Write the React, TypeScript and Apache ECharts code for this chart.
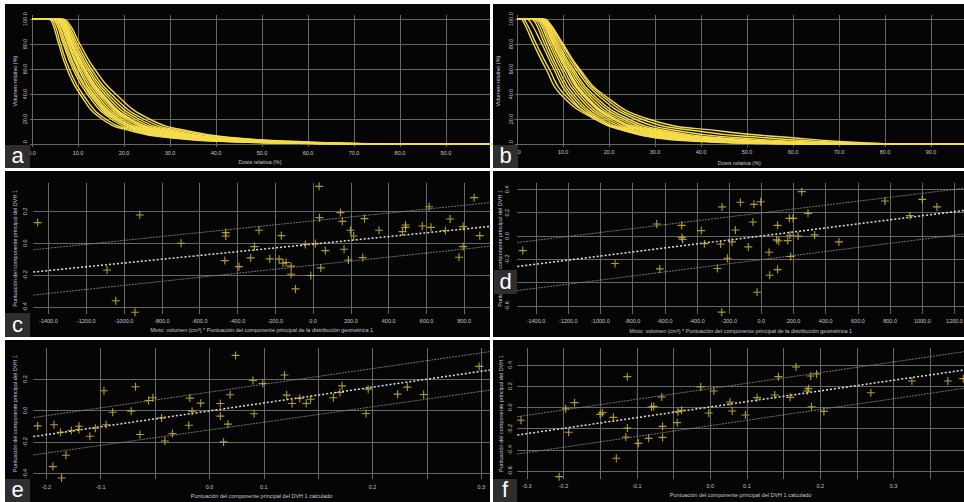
import React, { useEffect, useRef } from 'react';
import * as echarts from 'echarts';

// ---------- Panels a / b : DVH curves (dose % at each relative-volume level) ----------
const dvhVolumes = [100, 100, 97, 80, 60, 40, 20, 10, 5, 2, 0.5, 0, 0];
// each row: dose where the curve leaves 100 %, then dose at 97, 80, 60, 40, 20, 10, 5, 2, 0.5, 0 %
const dvhCurvesA = [
  [3.6, 4.4, 5.8, 7.6, 10.4, 15.2, 22, 30, 42, 58, 70],
  [3.9, 4.8, 6.2, 8.1, 11.0, 16.0, 23, 31, 43, 59, 71],
  [4.2, 5.2, 6.8, 8.9, 12.0, 17.2, 24, 32, 44, 60, 72],
  [4.4, 5.5, 7.1, 9.3, 12.5, 17.8, 25.5, 34, 46, 61, 73],
  [4.6, 5.7, 7.4, 9.6, 12.8, 18.2, 25, 33, 45, 61, 73],
  [4.8, 6.0, 7.8, 10.1, 13.4, 19.0, 26, 34.5, 46, 62, 74],
  [5.0, 6.2, 8.1, 10.5, 13.9, 19.6, 27, 36, 48, 63, 74],
  [5.1, 6.3, 8.0, 10.2, 13.2, 18.6, 26.5, 35, 47, 62, 74],
  [5.2, 6.4, 8.4, 10.9, 14.4, 20.3, 28, 37, 49, 64, 75],
  [5.3, 6.6, 8.6, 11.2, 14.8, 20.9, 28.5, 38, 50, 65, 75],
  [5.4, 6.7, 8.7, 11.4, 15.1, 21.2, 29, 38.5, 50.5, 64, 75],
  [5.5, 6.8, 8.9, 11.6, 15.3, 21.6, 29.5, 39, 51, 65, 76],
  [5.6, 7.0, 9.2, 12.0, 15.9, 22.4, 30.5, 40, 52, 66, 76],
  [5.8, 7.2, 9.5, 12.4, 16.5, 23.3, 31.5, 41, 54, 67, 77],
  [6.0, 7.5, 9.9, 12.9, 17.2, 24.3, 33, 43, 56, 68, 77],
  [6.3, 7.9, 10.4, 13.6, 18.2, 25.5, 34.5, 44, 58, 70, 78],
];
const dvhCurvesB = [
  [0.8, 1.5, 3.6, 6.3, 9.4, 16.8, 24, 30, 40, 51, 62],
  [1.2, 2.0, 4.2, 7.0, 10.2, 17.5, 25, 32, 42, 54, 64],
  [2.0, 3.0, 5.4, 8.0, 11.0, 17.0, 24, 31, 42, 55, 66],
  [3.0, 4.0, 6.0, 8.5, 11.6, 17.8, 25, 33, 44, 57, 67],
  [3.5, 4.5, 6.5, 9.0, 12.2, 18.4, 26, 34, 45, 58, 68],
  [4.0, 5.0, 7.0, 9.6, 12.9, 19.2, 27, 35, 47, 60, 70],
  [4.3, 5.3, 7.4, 10.1, 13.5, 20.0, 28, 37, 49, 62, 72],
  [4.5, 5.6, 7.8, 10.6, 14.1, 20.8, 29, 38, 50, 63, 73],
  [4.6, 5.7, 7.9, 10.8, 14.4, 21.2, 29.5, 38.5, 51, 64, 74],
  [4.7, 5.8, 8.1, 11.0, 14.6, 21.5, 30, 39, 52, 65, 74],
  [4.9, 6.0, 8.4, 11.4, 15.2, 22.3, 31, 41, 54, 66, 75],
  [5.0, 6.2, 8.7, 11.8, 15.8, 23.2, 32, 42, 55, 67, 76],
  [5.2, 6.4, 9.0, 12.2, 16.4, 24.2, 33.5, 44, 57, 69, 78],
  [5.4, 6.6, 9.4, 12.8, 17.3, 25.6, 36, 48, 61, 72, 80],
  [5.5, 6.8, 9.8, 13.3, 18.0, 27.0, 40, 54, 66, 75, 82],
  [5.6, 7.0, 10.0, 13.6, 18.6, 28.5, 45, 60, 70, 79, 84],
];

// ---------- Panel c ----------
const cX = [-1457, -917, -1090, -1044, -942, -698, -462, -462, -467, -392, -310, -330, -286, -229, -180, -168, -159, -143, -116, -116, -93, -41, -12, 12, 32, 34, 41, 65, 145, 155, 164, 187, 198, 215, 263, 272, 349, 473, 489, 489, 578, 614, 624, 700, 725, 772, 794, 794, 852, 882];
const cY = [0.13, 0.178, -0.168, -0.362, -0.434, 0.0, 0.067, 0.046, -0.109, -0.147, -0.021, -0.092, 0.082, -0.098, -0.1, 0.048, -0.126, -0.121, -0.144, -0.195, -0.287, -0.008, -0.203, -0.002, 0.358, 0.161, -0.155, -0.046, 0.193, 0.138, -0.038, -0.105, 0.082, 0.046, -0.09, 0.155, 0.082, 0.073, 0.115, 0.1, 0.109, 0.23, 0.1, 0.08, 0.153, -0.088, -0.021, 0.105, 0.287, 0.048];
const cFitX = [-1480, 936];
const cFitY = [-0.181, 0.106];
const cUpperY = [-0.041, 0.256];
const cLowerY = [-0.326, -0.019];

// ---------- Panel d ----------
const dX = [-1482, -909, -650, -631, -495, -493, -489, -373, -354, -273, -253, -244, -246, -211, -182, -161, -130, -81, -52, -46, -27, -4, 48, 52, 101, 95, 101, 108, 164, 174, 178, 182, 197, 228, 251, 290, 331, 482, 768, 923, 1000, 1091];
const dY = [-0.126, -0.237, 0.103, -0.283, 0.091, -0.014, -0.031, 0.046, -0.066, -0.28, -0.069, 0.249, -0.654, -0.191, -0.051, 0.051, 0.289, -0.094, 0.12, 0.271, -0.483, 0.294, -0.14, -0.337, -0.289, -0.034, 0.091, -0.043, -0.04, 0.151, 0.006, -0.177, 0.151, 0.0, 0.38, 0.194, 0.009, -0.051, 0.3, 0.174, 0.314, 0.249];
const dFitX = [-1516, 1259];
const dFitY = [-0.262, 0.218];
const dUpperY = [-0.057, 0.409];
const dLowerY = [-0.469, 0.017];

// ---------- Panel e ----------
const eX = [-0.158, -0.143, -0.144, -0.137, -0.136, -0.132, -0.127, -0.12, -0.12, -0.11, -0.105, -0.097, -0.095, -0.089, -0.072, -0.068, -0.064, -0.056, -0.052, -0.044, -0.041, -0.034, -0.018, -0.019, -0.016, -0.008, 0.01, 0.01, 0.013, 0.017, 0.019, 0.024, 0.04, 0.041, 0.049, 0.069, 0.071, 0.076, 0.083, 0.089, 0.093, 0.114, 0.12, 0.122, 0.144, 0.146, 0.173, 0.182, 0.197, 0.248];
const eY = [-0.098, -0.091, -0.357, -0.138, -0.43, -0.285, -0.128, -0.1, -0.121, -0.164, -0.113, 0.126, -0.091, -0.011, -0.004, 0.151, -0.153, 0.064, 0.081, -0.047, -0.194, -0.147, 0.079, -0.094, -0.004, 0.047, 0.045, -0.036, -0.2, -0.087, 0.1, 0.351, 0.191, -0.021, 0.172, 0.226, 0.098, 0.045, 0.077, 0.045, 0.072, 0.081, 0.115, 0.157, -0.019, 0.136, 0.104, 0.149, 0.102, 0.281];
const eFitX = [-0.162, 0.258];
const eFitY = [-0.166, 0.258];
const eUpperY = [-0.045, 0.375];
const eLowerY = [-0.283, 0.13];
const eTickValues = [-0.15, -0.1, -0.05, 0, 0.05, 0.1, 0.15, 0.2, 0.25];
const eTickLabels = ['-0.2', '-0.1', '', '0.0', '0.1', '', '0.2', '', '0.3'];

// ---------- Panel f ----------
const fX = [-0.258, -0.206, -0.197, -0.193, -0.185, -0.15, -0.147, -0.132, -0.128, -0.115, -0.113, -0.113, -0.098, -0.084, -0.08, -0.077, -0.066, -0.065, -0.065, -0.045, -0.044, -0.039, -0.013, -0.002, 0.005, 0.027, 0.03, 0.048, 0.064, 0.088, 0.093, 0.109, 0.117, 0.132, 0.134, 0.137, 0.138, 0.145, 0.155, 0.219, 0.275, 0.324, 0.345];
const fY = [-0.122, -0.653, -0.013, -0.235, 0.044, -0.066, -0.05, -0.094, -0.48, -0.279, -0.195, 0.289, -0.339, -0.292, 0.003, 0.009, 0.097, -0.179, -0.283, -0.144, -0.041, -0.028, 0.192, -0.053, 0.154, 0.05, -0.035, -0.072, 0.091, 0.116, 0.289, 0.094, 0.38, 0.154, 0.176, 0.295, 0.006, 0.314, -0.038, 0.138, 0.248, 0.248, 0.27];
const fFitX = [-0.263, 0.346];
const fFitY = [-0.261, 0.352];
const fUpperY = [-0.088, 0.524];
const fLowerY = [-0.44, 0.179];
const fTickValues = [-0.25, -0.2, -0.15, -0.1, -0.05, 0, 0.05, 0.1, 0.15, 0.2, 0.25, 0.3];
const fTickLabels = ['-0.3', '-0.2', '', '-0.1', '', '0.0', '0.1', '', '0.2', '', '0.3', ''];

const panelLetters = ['a', 'b', 'c', 'd', 'e', 'f'];

// ---------- styling ----------
const FONT = '"Liberation Sans", Arial, Helvetica, sans-serif';
const TXT = '#c6c6d6';
const GRIDC = '#676767';
const YELLOW = '#f4dc4c';
const GOLD = '#dcbd3c';
const PLUS = 'path://M4.3,0H5.7V4.3H10V5.7H5.7V10H4.3V5.7H0V4.3H4.3Z';

const isMult = (v: number, s: number) => Math.abs(v / s - Math.round(v / s)) < 1e-6;
const fix1 = (v: number) => v.toFixed(1);
const lookup = (vals: number[], labels: string[]) => (v: number) => {
  const i = vals.findIndex((t) => Math.abs(t - v) < 1e-6);
  return i >= 0 ? labels[i] : '';
};

function axis(kind: 'x' | 'y', gridIndex: number, min: number, max: number, step: number,
  name: string, nameGap: number, margin: number, fmt: (v: number) => string) {
  const a: any = {
    type: 'value', gridIndex, min, max, minInterval: step, maxInterval: step,
    name, nameLocation: 'middle', nameGap,
    nameTextStyle: { color: TXT, fontSize: 5.5, fontFamily: FONT },
    axisLine: { show: false }, axisTick: { show: false },
    axisLabel: {
      color: TXT, fontSize: 5.5, fontFamily: FONT, margin, formatter: fmt,
      showMinLabel: isMult(min, step), showMaxLabel: isMult(max, step),
      rotate: kind === 'y' ? 90 : 0,
    },
    splitLine: {
      show: true, showMinLine: isMult(min, step), showMaxLine: isMult(max, step),
      lineStyle: { color: GRIDC, width: 1 },
    },
  };
  if (kind === 'y') a.nameRotate = 90;
  return a;
}

function dvhSeries(curves: number[][], idx: number) {
  return curves.map((row) => ({
    type: 'line', xAxisIndex: idx, yAxisIndex: idx,
    data: [0, ...row, 100].map((d, i) => [d, dvhVolumes[i]]),
    showSymbol: false, smooth: 0.5,
    lineStyle: { color: YELLOW, width: 1.4 }, silent: true, z: 3,
  }));
}

function scatterSeries(xs: number[], ys: number[], idx: number) {
  return {
    type: 'scatter', xAxisIndex: idx, yAxisIndex: idx,
    data: xs.map((x, i) => [x, ys[i]]),
    symbol: PLUS, symbolSize: 8, itemStyle: { color: GOLD }, z: 5,
  };
}

function fitSeries(xs: number[], ys: number[], idx: number, main: boolean) {
  return {
    type: 'line', xAxisIndex: idx, yAxisIndex: idx,
    data: xs.map((x, i) => [x, ys[i]]), showSymbol: false, silent: true, z: 4,
    lineStyle: main
      ? { color: '#e2e2e2', width: 1.5, type: [2, 2] }
      : { color: '#8e8e8e', width: 0.8, type: [2, 1] },
  };
}

export default function App() {
  const ref = useRef<HTMLDivElement>(null);
  useEffect(() => {
    if (!ref.current) return;
    const chart = echarts.init(ref.current, undefined, { renderer: 'svg' });

    const panels = [
      [5, 4, 485, 164], [493, 4, 471, 164],
      [5, 171, 485, 166], [493, 171, 471, 166],
      [5, 340, 485, 162], [493, 340, 471, 162],
    ];
    const boxes = [
      [5, 145, 25, 23], [493, 145, 25, 23],
      [5, 313, 25, 24], [494, 270, 23, 24],
      [5, 479, 25, 23], [493, 479, 24, 23],
    ];

    const graphicEls: any[] = [];
    panels.forEach(([x, y, w, h]) => graphicEls.push({
      type: 'rect', shape: { x, y, width: w, height: h }, style: { fill: '#050505' }, z: -10, silent: true,
    }));
    boxes.forEach(([x, y, w, h], i) => {
      graphicEls.push({ type: 'rect', shape: { x, y, width: w, height: h }, style: { fill: '#2e2e2e' }, z: 100, silent: true });
      graphicEls.push({
        type: 'text', x: x + w / 2, y: y + h / 2 - 1, z: 101, silent: true,
        style: { text: panelLetters[i], fill: '#ffffff', fontSize: 22, fontFamily: FONT, align: 'center', verticalAlign: 'middle' },
      });
    });

    const grid = (left: number, right: number, top: number, bottom: number) => ({
      left, right, top, bottom, containLabel: false, outerBoundsMode: 'none',
    });

    const option: any = {
      animation: false,
      backgroundColor: '#ffffff',
      graphic: { elements: graphicEls },
      grid: [
        grid(30, 474, 15, 355),
        grid(514.7, 0, 15, 355),
        grid(33.3, 474, 182.7, 188),
        grid(517.3, 0, 182.7, 188),
        grid(33.3, 474, 348, 23),
        grid(517.3, 0, 348, 23),
      ],
      xAxis: [
        axis('x', 0, -0.435, 99.57, 10, 'Dosis relativa (%)', 12.3, 2.7, fix1),
        axis('x', 1, -0.5, 97.17, 10, 'Dosis relativa (%)', 12.7, 1.7, fix1),
        axis('x', 2, -1480, 936, 200, 'Mixto: volumen (cm³) * Puntuación del componente principal de la distribución geométrica 1', 13.3, 3.7, fix1),
        axis('x', 3, -1516, 1259, 200, 'Mixto: volumen (cm³) * Puntuación del componente principal de la distribución geométrica 1', 13.7, 3.7, fix1),
        axis('x', 4, -0.162, 0.258, 0.05, 'Puntuación del componente principal del DVH 1 calculado', 14, 4.7, lookup(eTickValues, eTickLabels)),
        axis('x', 5, -0.263, 0.346, 0.05, 'Puntuación del componente principal del DVH 1 calculado', 13, 3.7, lookup(fTickValues, fTickLabels)),
      ],
      yAxis: [
        axis('y', 0, -2.4, 103.2, 20, 'Volumen relativo (%)', 12, 2, fix1),
        axis('y', 1, -2.4, 103.2, 20, 'Volumen relativo (%)', 13.5, 1, fix1),
        axis('y', 2, -0.445, 0.381, 0.2, 'Puntuación del componente principal del DVH 1', 15, 5.3, fix1),
        axis('y', 3, -0.67, 0.457, 0.2, 'Puntuación del componente principal del DVH 1', 14, 7, fix1),
        axis('y', 4, -0.436, 0.398, 0.2, 'Puntuación del componente principal del DVH 1', 15, 5.3, fix1),
        axis('y', 5, -0.675, 0.559, 0.2, 'Puntuación del componente principal del DVH 1', 13.5, 4.3, fix1),
      ],
      series: [
        ...dvhSeries(dvhCurvesA, 0),
        ...dvhSeries(dvhCurvesB, 1),
        fitSeries(cFitX, cUpperY, 2, false), fitSeries(cFitX, cLowerY, 2, false), fitSeries(cFitX, cFitY, 2, true),
        scatterSeries(cX, cY, 2),
        fitSeries(dFitX, dUpperY, 3, false), fitSeries(dFitX, dLowerY, 3, false), fitSeries(dFitX, dFitY, 3, true),
        scatterSeries(dX, dY, 3),
        fitSeries(eFitX, eUpperY, 4, false), fitSeries(eFitX, eLowerY, 4, false), fitSeries(eFitX, eFitY, 4, true),
        scatterSeries(eX, eY, 4),
        fitSeries(fFitX, fUpperY, 5, false), fitSeries(fFitX, fLowerY, 5, false), fitSeries(fFitX, fFitY, 5, true),
        scatterSeries(fX, fY, 5),
      ],
    };
    chart.setOption(option);
    return () => chart.dispose();
  }, []);

  return (
    <div
      ref={ref}
      style={{ position: 'absolute', left: 0, top: 0, width: 964, height: 502, overflow: 'hidden' }}
    />
  );
}
